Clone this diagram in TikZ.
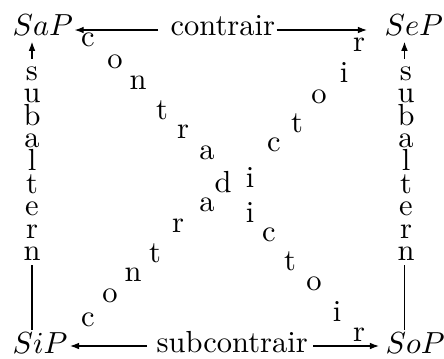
\documentclass[tikz,border=0pt]{standalone}
\usetikzlibrary{arrows.meta}
\begin{document}
\begin{tikzpicture}[x=0.328pt,y=-0.328pt,
  ltr/.style={inner sep=0pt},
  arr/.style={-{Latex[length=3pt,width=2.2pt]}, line width=0.4pt},
  ln/.style={line width=0.4pt}]
\useasboundingbox (0,0) rectangle (444,358);
% corners
\node[ltr,anchor=base west] (SaP) at (12,35) {$SaP$};
\node[ltr,anchor=base west] (SeP) at (384,35) {$SeP$};
\node[ltr,anchor=base west] (SiP) at (12,353) {$SiP$};
\node[ltr,anchor=base west] (SoP) at (385,353) {$SoP$};
% horizontal labels
\node[ltr,anchor=base west] (contrair) at (170,35) {contrair};
\node[ltr,anchor=base west] (subcontrair) at (156,352) {subcontrair};
\draw[arr] ([shift={(-12,-5)}]contrair.base west) -- ([shift={(1,-5)}]SaP.base east);
\draw[arr] ([shift={(1,-5)}]contrair.base east) -- ([shift={(-17,-5)}]SeP.base west);
\draw[arr] ([shift={(-9,-6)}]subcontrair.base west) -- ([shift={(2,-7)}]SiP.base east);
\draw[arr] ([shift={(5,-6)}]subcontrair.base east) -- ([shift={(-6,-7)}]SoP.base west);
% vertical labels
\foreach \l [count=\k] in {s,u,b,a,l,t,e,r,n} {
  \node[ltr,anchor=base] (L\k) at (32,{80+22.6*(\k-1)}) {\l};
  \node[ltr,anchor=base] (R\k) at (406,{80+22.6*(\k-1)}) {\l};
}
\draw[arr,shorten <=2.3pt,shorten >=2pt] (L1.north) -- (L1.north |- SaP.south);
\draw[arr,shorten <=2.3pt,shorten >=2pt] ([xshift=-0.5pt]R1.north) -- ([xshift=-0.5pt]R1.north |- SeP.south);
\draw[ln,shorten <=1.3pt,shorten >=7.5pt] (L9.south) -- (L9.south |- SiP.base);
\draw[ln,shorten <=1.3pt,shorten >=7.5pt] ([xshift=-0.5pt]R9.south) -- ([xshift=-0.5pt]R9.south |- SoP.base);
% diagonal SaP -> SoP
\foreach \l/\x/\y [count=\k] in {c/88/40, o/115/62, n/138/83, t/162/110, r/183/132, a/207/153, d/223/182, i/250/212, c/269/235, t/290/261, o/314/284, i/337/311, r/359/335} {
  \node[ltr] (A\k) at (\x,\y) {\l};
}
% diagonal SiP -> SeP (shares d)
\foreach \l/\x/\y [count=\k] in {c/88/320, o/110/296, n/133/275, t/155/253, r/178/226, a/207/205, i/250/177, c/274/145, t/297/123, o/319/97, i/344/72, r/359/45} {
  \node[ltr] (B\k) at (\x,\y) {\l};
}
\end{tikzpicture}
\end{document}
